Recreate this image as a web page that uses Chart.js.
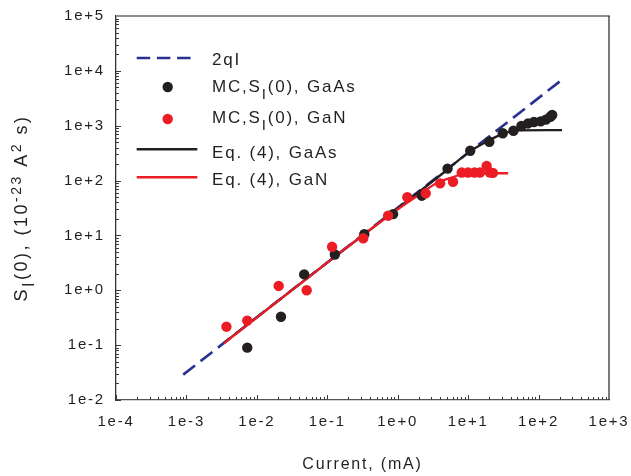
<!DOCTYPE html>
<html>
<head>
<meta charset="utf-8">
<script src="https://cdn.jsdelivr.net/npm/chart.js@4.4.1/dist/chart.umd.min.js"></script>
<style>
  html, body { margin: 0; padding: 0; background: #fff; }
  #c { display: block; }
</style>
</head>
<body>
<canvas id="c" width="631" height="476"></canvas>
<script>
// Shot-noise reference 2qI (current in mA, S in 1e-23 A^2 s)
const shotI = [9e-4, 205];
const shotS = [0.029, 6560];

// Monte Carlo S_I(0), GaAs
const gaasI = [0.0073, 0.022, 0.047, 0.128, 0.335, 0.86, 2.2, 5.1, 10.7, 20, 31, 44, 57, 71, 86, 107, 127, 147, 156];
const gaasS = [0.09, 0.33, 1.95, 4.5, 10.5, 24.5, 53, 165, 350, 510, 730, 810, 990, 1100, 1170, 1200, 1290, 1460, 1570];

// Monte Carlo S_I(0), GaN
const ganI = [0.0037, 0.0073, 0.0204, 0.051, 0.117, 0.324, 0.73, 1.37, 2.5, 4.0, 6.1, 8.1, 10, 12.3, 14.7, 18.3, 20.4, 22.5];
const ganS = [0.217, 0.28, 1.2, 1.0, 6.2, 8.9, 22.9, 49.6, 58.6, 89, 95, 140, 140, 140, 140, 185, 140, 138];

// Eq. (4), GaAs
const eqGaasI = [0.0034, 0.1, 1, 5, 10.6, 19.8, 27, 35, 43, 50, 215];
const eqGaasS = [0.11, 3.2, 31, 156, 340, 540, 660, 750, 800, 825, 830];

// Eq. (4), GaN
const eqGanI = [0.0034, 0.1, 1, 2, 3.6, 6, 8.5, 12, 37];
const eqGanS = [0.108, 3.2, 30, 55, 90, 115, 132, 136, 136];

// Axis ticks
const xTickValues = [1e-4, 1e-3, 1e-2, 1e-1, 1e0, 1e1, 1e2, 1e3];
const xTickLabels = ['1e-4', '1e-3', '1e-2', '1e-1', '1e+0', '1e+1', '1e+2', '1e+3'];
const yTickValues = [1e-2, 1e-1, 1e0, 1e1, 1e2, 1e3, 1e4, 1e5];
const yTickLabels = ['1e-2', '1e-1', '1e+0', '1e+1', '1e+2', '1e+3', '1e+4', '1e+5'];

const BLUE = '#2a3190';
const BLACK = '#231f20';
const RED = '#ec1c24';
const FONT = "'Liberation Sans', Arial, Helvetica, sans-serif";
const SPACING = '1.8px';

const pts = (xs, ys) => xs.map((x, i) => ({ x, y: ys[i] }));

// Legend rows: marker kind, colour, marker y, text baseline, text pieces
const legendRows = [
  { kind: 'dash', color: BLUE, y: 58, base: 65, text: [['2qI']] },
  { kind: 'dot', color: BLACK, y: 87, base: 91.5, text: [['MC,S'], ['I', 'sub'], ['(0), GaAs']] },
  { kind: 'dot', color: RED, y: 119, base: 123.3, text: [['MC,S'], ['I', 'sub'], ['(0), GaN']] },
  { kind: 'line', color: BLACK, y: 149.3, base: 158.3, text: [['Eq. (4), GaAs']] },
  { kind: 'line', color: RED, y: 177.3, base: 185, text: [['Eq. (4), GaN']] }
];

const yTitle = [['S'], ['I', 'sub'], ['(0), (10'], ['-23', 'sup'], [' A'], ['2', 'sup'], [' s)']];

function pieceFont(kind, size) {
  if (kind === 'sub') return (size - 2) + 'px ' + FONT;
  if (kind === 'sup') return (size - 4) + 'px ' + FONT;
  return size + 'px ' + FONT;
}
function pieceShift(kind) {
  if (kind === 'sub') return 7;
  if (kind === 'sup') return -6;
  return 0;
}
function drawRich(ctx, pieces, x, y, size) {
  let cx = x;
  for (const [t, k] of pieces) {
    ctx.font = pieceFont(k, size);
    ctx.fillText(t, cx, y + pieceShift(k));
    cx += ctx.measureText(t).width;
  }
}
function richWidth(ctx, pieces, size) {
  let w = 0;
  for (const [t, k] of pieces) {
    ctx.font = pieceFont(k, size);
    w += ctx.measureText(t).width;
  }
  return w;
}

const axisDecor = {
  id: 'axisDecor',
  beforeLayout(chart) { chart.ctx.letterSpacing = SPACING; },
  beforeDraw(chart) { chart.ctx.letterSpacing = SPACING; },
  beforeDatasetsDraw(chart) {
    const { ctx, chartArea: { left, right, top, bottom }, scales: { x, y } } = chart;
    ctx.save();
    // top and right frame
    ctx.strokeStyle = '#8e8e8e';
    ctx.lineWidth = 2;
    ctx.beginPath(); ctx.moveTo(left, top); ctx.lineTo(right + 1, top); ctx.stroke();
    ctx.strokeStyle = '#333';
    ctx.lineWidth = 1.3;
    ctx.beginPath(); ctx.moveTo(right, top); ctx.lineTo(right, bottom); ctx.stroke();
    // inward tick marks on the left and bottom axes
    ctx.strokeStyle = '#3a3a3a';
    ctx.lineWidth = 1;
    ctx.beginPath();
    for (let e = -4; e <= 2; e++) {
      for (let k = 1; k <= 9; k++) {
        const px = Math.round(x.getPixelForValue(k * Math.pow(10, e))) + 0.5;
        const len = k === 1 ? 5 : 3;
        ctx.moveTo(px, bottom); ctx.lineTo(px, bottom - len);
      }
    }
    for (let e = -2; e <= 4; e++) {
      for (let k = 1; k <= 9; k++) {
        const py = Math.round(y.getPixelForValue(k * Math.pow(10, e))) + 0.5;
        const len = k === 1 ? 5 : 3;
        ctx.moveTo(left, py); ctx.lineTo(left + len, py);
      }
    }
    ctx.stroke();
    ctx.restore();
  },
  afterDraw(chart) {
    const { ctx, chartArea: { top, bottom } } = chart;
    ctx.save();
    ctx.letterSpacing = SPACING;
    ctx.fillStyle = BLACK;
    ctx.textBaseline = 'alphabetic';
    ctx.textAlign = 'left';
    // legend
    for (const row of legendRows) {
      ctx.save();
      if (row.kind === 'dash') {
        ctx.strokeStyle = row.color; ctx.lineWidth = 2.6; ctx.setLineDash([13.5, 6.7]);
        ctx.beginPath(); ctx.moveTo(136.7, row.y); ctx.lineTo(190.7, row.y); ctx.stroke();
      } else if (row.kind === 'line') {
        ctx.strokeStyle = row.color; ctx.lineWidth = 2.6;
        ctx.beginPath(); ctx.moveTo(136.7, row.y); ctx.lineTo(197.3, row.y); ctx.stroke();
      } else {
        ctx.fillStyle = row.color;
        ctx.beginPath(); ctx.arc(167.7, row.y, 5.2, 0, Math.PI * 2); ctx.fill();
      }
      ctx.restore();
      drawRich(ctx, row.text, 212, row.base, 17);
    }
    // rotated y-axis title
    const size = 18;
    ctx.letterSpacing = '2.5px';
    const w = richWidth(ctx, yTitle, size);
    ctx.translate(27, (top + bottom) / 2);
    ctx.rotate(-Math.PI / 2);
    drawRich(ctx, yTitle, -w / 2, 0, size);
    ctx.restore();
  }
};

new Chart(document.getElementById('c'), {
  type: 'scatter',
  data: {
    datasets: [
      { label: 'MC,S_I(0), GaN', data: pts(ganI, ganS), backgroundColor: RED, borderWidth: 0,
        pointRadius: 5.2, pointBorderWidth: 0, order: 0 },
      { label: 'MC,S_I(0), GaAs', data: pts(gaasI, gaasS), backgroundColor: BLACK, borderWidth: 0,
        pointRadius: 5.2, pointBorderWidth: 0, order: 1 },
      { label: 'Eq. (4), GaN', data: pts(eqGanI, eqGanS), showLine: true, borderColor: RED, borderWidth: 2.3,
        pointRadius: 0, cubicInterpolationMode: 'monotone', order: 2 },
      { label: 'Eq. (4), GaAs', data: pts(eqGaasI, eqGaasS), showLine: true, borderColor: BLACK, borderWidth: 2.3,
        pointRadius: 0, cubicInterpolationMode: 'monotone', order: 3 },
      { label: '2qI', data: pts(shotI, shotS), showLine: true, borderColor: BLUE, borderWidth: 2.6,
        borderDash: [15, 7], pointRadius: 0, order: 4 }
    ]
  },
  options: {
    responsive: false,
    animation: false,
    devicePixelRatio: 1,
    events: [],
    layout: { padding: { left: 0, right: 22, top: 16, bottom: 0 } },
    plugins: { legend: { display: false }, tooltip: { enabled: false } },
    scales: {
      x: {
        type: 'logarithmic', position: 'bottom', min: 1e-4, max: 1e3,
        afterFit(s) { s.height = 76; s.paddingLeft = 0; s.paddingRight = 0; },
        afterBuildTicks(s) { s.ticks = xTickValues.map(v => ({ value: v })); },
        ticks: { callback: (v, i) => xTickLabels[i], color: BLACK, font: { family: FONT, size: 15 },
                 padding: 13, maxRotation: 0, autoSkip: false },
        grid: { display: false, drawTicks: false },
        border: { display: true, color: '#555', width: 1.3 },
        title: { display: true, text: 'Current, (mA)', color: BLACK, font: { family: FONT, size: 16 },
                 padding: { top: 0, bottom: 2 } }
      },
      y: {
        type: 'logarithmic', position: 'left', min: 1e-2, max: 1e5,
        afterFit(s) { s.width = 116; s.paddingTop = 0; s.paddingBottom = 0; },
        afterBuildTicks(s) { s.ticks = yTickValues.map(v => ({ value: v })); },
        ticks: { callback: (v, i) => yTickLabels[i], color: BLACK, font: { family: FONT, size: 15 },
                 padding: 11, autoSkip: false },
        grid: { display: false, drawTicks: false },
        border: { display: true, color: '#333', width: 1.3 }
      }
    }
  },
  plugins: [axisDecor]
});
</script>
</body>
</html>
